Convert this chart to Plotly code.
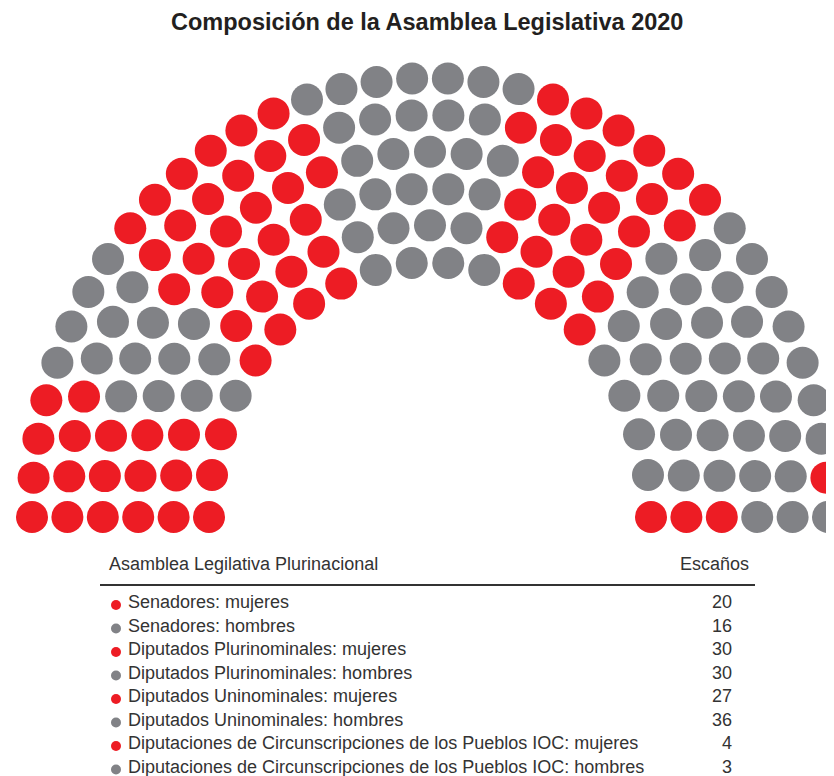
import math
import plotly.graph_objects as go

# ---------------- data ----------------
title_text = "Composición de la Asamblea Legislativa 2020"
table_header = "Asamblea Legilativa Plurinacional"
seats_header = "Escaños"
categories = [
    "Senadores: mujeres",
    "Senadores: hombres",
    "Diputados Plurinominales: mujeres",
    "Diputados Plurinominales: hombres",
    "Diputados Uninominales: mujeres",
    "Diputados Uninominales: hombres",
    "Diputaciones de Circunscripciones de los Pueblos IOC: mujeres",
    "Diputaciones de Circunscripciones de los Pueblos IOC: hombres",
]
seats = [20, 16, 30, 30, 27, 36, 4, 3]
genders = ["mujeres", "hombres", "mujeres", "hombres", "mujeres", "hombres", "mujeres", "hombres"]

# ---------------- styles ----------------
RED = "#ED1C24"
GRAY = "#818286"
TEXT = "#333333"
color_of = {"mujeres": RED, "hombres": GRAY}
PAGE_W, PAGE_H = 834, 776
OFF = 8                              # page body margin
W, H = PAGE_W - OFF, PAGE_H - OFF    # figure fills the rest of the page
CX, CY = 430 - OFF, 517 - OFF        # hemicycle centre in figure pixels
N_RINGS = 6
R_INNER, R_STEP = 221, 35.4
DOT = 32
FONT = "Liberation Sans, Arial, sans-serif"
FS = 18

# ---------------- hemicycle layout ----------------
total = sum(seats)
radii = [R_INNER + R_STEP * i for i in range(N_RINGS)]
rsum = sum(radii)
counts = [round(total * r / rsum) for r in radii]
counts[-1] += total - sum(counts)

positions = []
for ring, (r, n) in enumerate(zip(radii, counts)):
    ry = 1.04 * r + 25
    for j in range(n):
        th = math.pi * (1 - j / (n - 1))
        positions.append((round(-th, 9), ring, r * math.cos(th), ry * math.sin(th)))
positions.sort(key=lambda p: (p[0], p[1]))

fig = go.Figure()
idx = 0
for cat, n, g in zip(categories, seats, genders):
    pts = positions[idx: idx + n]
    idx += n
    fig.add_trace(go.Scatter(
        x=[p[2] for p in pts], y=[p[3] for p in pts],
        mode="markers", name=cat, hovertext=cat, hoverinfo="text",
        marker=dict(size=DOT, color=color_of[g], line=dict(width=0)),
        showlegend=False,
    ))

# ---------------- table ----------------
def px_to_paper(px, py):
    return (px - OFF) / W, 1 - (py - OFF) / H

ROW0, ROW_STEP = 602, 23.5
bx, by = [], []
for i, (cat, n, g) in enumerate(zip(categories, seats, genders)):
    py = ROW0 + ROW_STEP * i
    bx.append(116 - OFF - CX)
    by.append(CY - (py + 3 - OFF))
    x_t, y_t = px_to_paper(126, py)
    fig.add_annotation(x=x_t, y=y_t, xref="paper", yref="paper", text=cat,
                       showarrow=False, xanchor="left", yanchor="middle",
                       font=dict(family=FONT, size=FS, color=TEXT))
    x_n, _ = px_to_paper(734, py)
    fig.add_annotation(x=x_n, y=y_t, xref="paper", yref="paper", text=str(n),
                       showarrow=False, xanchor="right", yanchor="middle",
                       font=dict(family=FONT, size=FS, color=TEXT))

fig.add_trace(go.Scatter(
    x=bx, y=by, mode="markers", hoverinfo="skip", showlegend=False,
    marker=dict(size=10, color=[color_of[g] for g in genders]),
))

hx, hy = px_to_paper(107, 564)
fig.add_annotation(x=hx, y=hy, xref="paper", yref="paper", text=table_header,
                   showarrow=False, xanchor="left", yanchor="middle",
                   font=dict(family=FONT, size=FS, color=TEXT))
ex, _ = px_to_paper(751, 564)
fig.add_annotation(x=ex, y=hy, xref="paper", yref="paper", text=seats_header,
                   showarrow=False, xanchor="right", yanchor="middle",
                   font=dict(family=FONT, size=FS, color=TEXT))

lx0, ly = px_to_paper(100, 585)
lx1, _ = px_to_paper(755, 585)
fig.add_shape(type="line", xref="paper", yref="paper", x0=lx0, x1=lx1, y0=ly, y1=ly,
              line=dict(color=TEXT, width=2))

tx, ty = px_to_paper(427, 22)
fig.add_annotation(x=tx, y=ty, xref="paper", yref="paper", text="<b>" + title_text + "</b>",
                   showarrow=False, xanchor="center", yanchor="middle",
                   font=dict(family=FONT, size=23.5, color="#231F20"))

fig.update_layout(
    width=W, height=H,
    margin=dict(l=0, r=0, t=0, b=0),
    paper_bgcolor="white", plot_bgcolor="white",
    xaxis=dict(range=[-CX, W - CX], visible=False, fixedrange=True),
    yaxis=dict(range=[CY - H, CY], visible=False, fixedrange=True),
)

fig.write_html("out.html")
